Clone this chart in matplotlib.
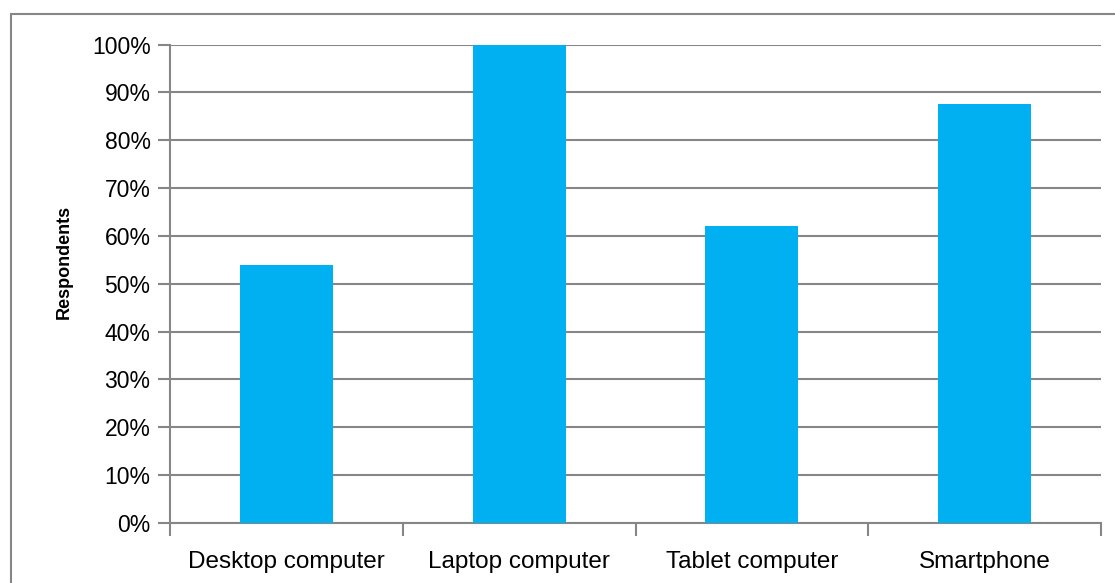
import matplotlib.pyplot as plt
from matplotlib.patches import Rectangle
from matplotlib.ticker import PercentFormatter

categories = ['Desktop computer', 'Laptop computer', 'Tablet computer', 'Smartphone']
shares = [0.54, 1.00, 0.62, 0.875]

plt.rcParams['font.family'] = ['Liberation Sans', 'DejaVu Sans']
grey = '#868686'

fig = plt.figure(figsize=(11.15, 5.83), dpi=100)
# outer chart border
fig.patches.append(Rectangle((11 / 1115, -0.05), 1.2, 1 - 14 / 583 + 0.05,
                             transform=fig.transFigure, fill=False,
                             edgecolor=grey, linewidth=1.5))

ax = fig.add_axes([170 / 1115, 60 / 583, 931 / 1115, 478.5 / 583])
x = range(len(categories))
ax.bar(x, shares, width=0.4, color='#00B0F0', zorder=3)

ax.set_xlim(-0.5, len(categories) - 0.5)
ax.set_ylim(0, 1)
ax.set_yticks([i / 10 for i in range(11)])
ax.yaxis.set_major_formatter(PercentFormatter(1.0, decimals=0))
ax.grid(axis='y', color=grey, linewidth=1.5, zorder=0)

ax.set_xticks(list(x))
ax.set_xticklabels(categories)
ax.set_xticks([i - 0.5 for i in range(len(categories) + 1)], minor=True)
ax.tick_params(axis='x', which='major', length=0, pad=20, labelsize=17.5)
ax.tick_params(axis='x', which='minor', length=9, width=1.5, color=grey)
ax.tick_params(axis='y', length=9, width=1.5, color=grey, labelsize=16.5, pad=5)

for s in ['top', 'right']:
    ax.spines[s].set_visible(False)
for s in ['left', 'bottom']:
    ax.spines[s].set_color(grey)
    ax.spines[s].set_linewidth(1.5)

ax.set_ylabel('Respondents', fontsize=13, fontweight='bold')
ax.yaxis.set_label_coords(-0.104, 0.545)

plt.savefig('out.png', dpi=100)
